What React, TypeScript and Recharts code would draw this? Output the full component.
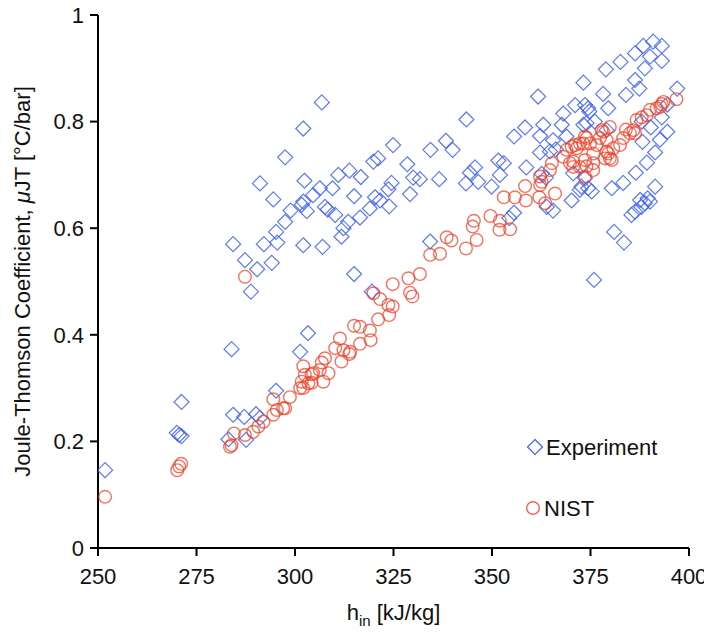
import * as React from "react";
import { ScatterChart, Scatter, XAxis, YAxis, Legend } from "recharts";

// tick labels
const xTicks = [250, 275, 300, 325, 350, 375, 400];
const yTicks = [0, 0.2, 0.4, 0.6, 0.8, 1];

// Experiment: inlet enthalpy [kJ/kg]
const expH = [
  251.8, 270.0, 270.6, 271.2, 271.2, 283.1, 283.9, 284.3, 287.1, 287.6,
  290.1, 291.1, 295.2, 301.3, 303.3, 306.8, 302.1, 297.5, 291.1, 302.4,
  294.5, 302.1, 301.7, 304.6, 306.3, 309.5, 298.9, 297.5, 295.2, 303.0,
  307.6, 308.3, 310.2, 311.0, 313.8, 316.7, 319.9, 315.0, 319.0, 316.5,
  313.5, 312.3, 311.8, 284.3, 292.1, 295.5, 302.1, 307.0, 287.3, 290.4,
  294.1, 288.8, 315.0, 319.5, 334.3, 343.5, 324.9, 334.4, 338.3, 340.0,
  321.1, 328.5, 330.0, 331.7, 336.6, 324.5, 323.7, 329.2, 320.3, 321.6,
  323.9, 345.7, 344.4, 346.5, 343.4, 349.9, 351.6, 353.0, 352.0, 355.6,
  358.4, 358.7, 361.7, 355.6, 354.4, 373.2, 368.1, 371.1, 374.4, 363.0,
  362.2, 367.7, 368.9, 373.2, 365.5, 366.2, 364.7, 362.2, 362.6, 363.7,
  370.6, 373.6, 374.4, 372.3, 363.9, 365.5, 370.2, 388.4, 390.9, 393.1,
  386.3, 390.1, 393.1, 388.8, 382.6, 378.9, 386.3, 387.4, 384.0, 378.2,
  379.5, 397.0, 373.6, 374.7, 374.0, 376.1, 379.1, 388.0, 390.3, 393.1,
  394.5, 392.6, 388.2, 391.4, 389.3, 386.5, 391.4, 387.6, 388.8, 390.1,
  386.3, 385.4, 383.3, 380.4, 372.7, 375.3, 381.0, 383.5, 394.5, 387.9,
  389.5, 375.9,
];
// Experiment: Joule-Thomson coefficient [°C/bar]
const expMu = [
  0.146, 0.216, 0.212, 0.210, 0.274, 0.204, 0.373, 0.250, 0.246, 0.203,
  0.251, 0.244, 0.295, 0.368, 0.403, 0.836, 0.787, 0.733, 0.684, 0.689,
  0.654, 0.650, 0.644, 0.662, 0.675, 0.675, 0.633, 0.612, 0.593, 0.632,
  0.640, 0.635, 0.625, 0.700, 0.708, 0.696, 0.725, 0.660, 0.637, 0.620,
  0.612, 0.600, 0.584, 0.570, 0.570, 0.573, 0.568, 0.565, 0.540, 0.523,
  0.535, 0.481, 0.514, 0.481, 0.575, 0.804, 0.756, 0.747, 0.764, 0.747,
  0.731, 0.720, 0.695, 0.692, 0.692, 0.685, 0.673, 0.664, 0.658, 0.652,
  0.641, 0.714, 0.704, 0.687, 0.684, 0.678, 0.727, 0.722, 0.700, 0.772,
  0.789, 0.714, 0.847, 0.629, 0.619, 0.873, 0.815, 0.831, 0.825, 0.794,
  0.773, 0.794, 0.772, 0.794, 0.765, 0.748, 0.744, 0.742, 0.702, 0.695,
  0.703, 0.694, 0.675, 0.672, 0.640, 0.633, 0.652, 0.942, 0.950, 0.942,
  0.928, 0.922, 0.914, 0.900, 0.912, 0.898, 0.878, 0.862, 0.850, 0.852,
  0.825, 0.862, 0.831, 0.819, 0.797, 0.800, 0.784, 0.800, 0.789, 0.808,
  0.781, 0.766, 0.762, 0.742, 0.723, 0.704, 0.678, 0.653, 0.647, 0.650,
  0.631, 0.625, 0.685, 0.675, 0.678, 0.669, 0.593, 0.573, 0.832, 0.640,
  0.656, 0.503,
];

// NIST: inlet enthalpy [kJ/kg]
const nistH = [
  251.8, 270.1, 270.6, 271.1, 283.5, 283.9, 284.5, 287.3, 289.4, 290.7,
  292.0, 294.5, 295.4, 297.5, 298.7, 294.5, 302.1, 302.5, 302.1, 303.4,
  304.2, 287.3, 338.5, 339.7, 334.3, 336.8, 331.7, 328.8, 324.8, 329.2,
  329.8, 319.9, 321.6, 323.7, 324.8, 323.9, 321.1, 315.0, 316.5, 319.0,
  316.5, 319.2, 311.4, 310.2, 312.3, 314.0, 311.8, 313.8, 307.6, 306.8,
  308.5, 307.2, 306.3, 304.6, 304.2, 301.7, 301.3, 297.0, 358.4, 355.8,
  353.0, 358.6, 349.6, 352.0, 351.9, 354.6, 345.4, 345.1, 346.1, 343.4,
  365.2, 364.7, 362.2, 362.6, 362.2, 362.0, 366.0, 363.5, 368.1, 368.9,
  369.8, 371.5, 373.2, 374.0, 370.6, 372.3, 373.6, 396.8, 393.1, 391.8,
  390.1, 389.3, 388.0, 386.7, 385.9, 384.0, 383.3, 386.3, 379.9, 378.2,
  377.4, 379.1, 376.6, 374.9, 375.7, 379.9, 379.1, 373.6, 372.3, 371.1,
  370.2, 370.6, 374.0, 375.7, 393.5, 392.7, 385.0, 382.5, 380.8, 379.5,
  378.7, 380.4, 377.8, 375.7, 373.6,
];
// NIST: Joule-Thomson coefficient [°C/bar]
const nistMu = [
  0.096, 0.146, 0.153, 0.158, 0.190, 0.193, 0.215, 0.212, 0.218, 0.228,
  0.237, 0.250, 0.259, 0.262, 0.283, 0.279, 0.341, 0.325, 0.300, 0.309,
  0.326, 0.509, 0.583, 0.577, 0.550, 0.552, 0.514, 0.506, 0.495, 0.479,
  0.472, 0.478, 0.467, 0.456, 0.453, 0.437, 0.429, 0.417, 0.415, 0.408,
  0.383, 0.390, 0.393, 0.375, 0.371, 0.368, 0.350, 0.364, 0.356, 0.348,
  0.328, 0.312, 0.334, 0.328, 0.310, 0.312, 0.300, 0.262, 0.679, 0.658,
  0.658, 0.652, 0.623, 0.614, 0.597, 0.598, 0.614, 0.603, 0.578, 0.562,
  0.722, 0.709, 0.697, 0.687, 0.681, 0.658, 0.665, 0.647, 0.734, 0.747,
  0.722, 0.750, 0.759, 0.769, 0.715, 0.715, 0.728, 0.842, 0.833, 0.825,
  0.822, 0.812, 0.808, 0.803, 0.784, 0.785, 0.769, 0.778, 0.790, 0.781,
  0.769, 0.765, 0.756, 0.759, 0.740, 0.731, 0.744, 0.772, 0.759, 0.756,
  0.753, 0.725, 0.716, 0.709, 0.837, 0.828, 0.778, 0.756, 0.750, 0.740,
  0.731, 0.728, 0.784, 0.722, 0.697,
];

const experiment = expH.map((h, i) => ({ h, mu: expMu[i] }));
const nist = nistH.map((h, i) => ({ h, mu: nistMu[i] }));

const FONT = '"Liberation Sans", Arial, Helvetica, sans-serif';
const BLUE = "#3f62f2";
const RED = "#ec3d22";

function Diamond(props: any) {
  const { cx, cy } = props;
  const r = 7.5;
  return (
    <path
      d={`M${cx},${cy - r}L${cx + r},${cy}L${cx},${cy + r}L${cx - r},${cy}Z`}
      fill="none"
      stroke={BLUE}
      strokeOpacity={0.85}
      strokeWidth={1.2}
    />
  );
}

function Ring(props: any) {
  const { cx, cy } = props;
  return <circle cx={cx} cy={cy} r={6.3} fill="none" stroke={RED} strokeOpacity={0.72} strokeWidth={1.4} />;
}

function YTitle(props: any) {
  const { x, y, height } = props.viewBox;
  const cx = x + 14;
  const cy = y + height / 2;
  return (
    <text
      x={cx}
      y={cy}
      transform={`rotate(-90 ${cx} ${cy})`}
      textAnchor="middle"
      dominantBaseline="central"
      fontSize={22}
      fontFamily={FONT}
      fill="#111"
    >
      Joule-Thomson Coefficient, <tspan fontStyle="italic">μ</tspan>JT [°C/bar]
    </text>
  );
}

function XTitle(props: any) {
  const { x, y, width } = props.viewBox;
  return (
    <text x={x + width / 2} y={y + 72} textAnchor="middle" fontSize={22} fontFamily={FONT} fill="#111">
      h<tspan fontSize={15} dy={6}>in</tspan>
      <tspan dy={-6}> [kJ/kg]</tspan>
    </text>
  );
}

function LegendBox() {
  return (
    <svg width={180} height={100} style={{ display: "block" }}>
      <path d="M12,11.5L19.5,19L12,26.5L4.5,19Z" fill="none" stroke={BLUE} strokeWidth={1.2} />
      <text x={23} y={19} dominantBaseline="central" fontSize={22} fontFamily={FONT} fill="#111">
        Experiment
      </text>
      <circle cx={10} cy={80} r={6.3} fill="none" stroke={RED} strokeOpacity={0.8} strokeWidth={1.4} />
      <text x={21} y={80} dominantBaseline="central" fontSize={22} fontFamily={FONT} fill="#111">
        NIST
      </text>
    </svg>
  );
}

export default function App() {
  const tickStyle = { fontSize: 22, fontFamily: FONT, fill: "#111" };
  return (
    <div style={{ width: 704, height: 635, marginTop: -8 }}>
      <ScatterChart width={704} height={635} margin={{ top: 15, right: 23, left: 0, bottom: 20 }}>
        <XAxis
          type="number"
          dataKey="h"
          domain={[250, 400]}
          ticks={xTicks}
          allowDataOverflow
          height={67}
          axisLine={{ stroke: "#000", strokeWidth: 2 }}
          tickLine={{ stroke: "#000", strokeWidth: 2 }}
          tickSize={8}
          tickMargin={12}
          tick={tickStyle}
          interval={0}
          label={XTitle}
        />
        <YAxis
          type="number"
          dataKey="mu"
          domain={[0, 1]}
          ticks={yTicks}
          allowDataOverflow
          width={90}
          axisLine={{ stroke: "#000", strokeWidth: 2 }}
          tickLine={{ stroke: "#000", strokeWidth: 2 }}
          tickSize={8}
          tickMargin={6}
          tick={tickStyle}
          interval={0}
          tickFormatter={(v: number) => String(v)}
          label={YTitle}
        />
        <Legend
          layout="horizontal"
          verticalAlign="middle"
          align="center"
          wrapperStyle={{ position: "absolute", left: 515, top: 428, width: 180, height: 100 }}
          content={() => <LegendBox />}
        />
        <Scatter name="Experiment" data={experiment} shape={Diamond} isAnimationActive={false} />
        <Scatter name="NIST" data={nist} shape={Ring} isAnimationActive={false} />
      </ScatterChart>
    </div>
  );
}
